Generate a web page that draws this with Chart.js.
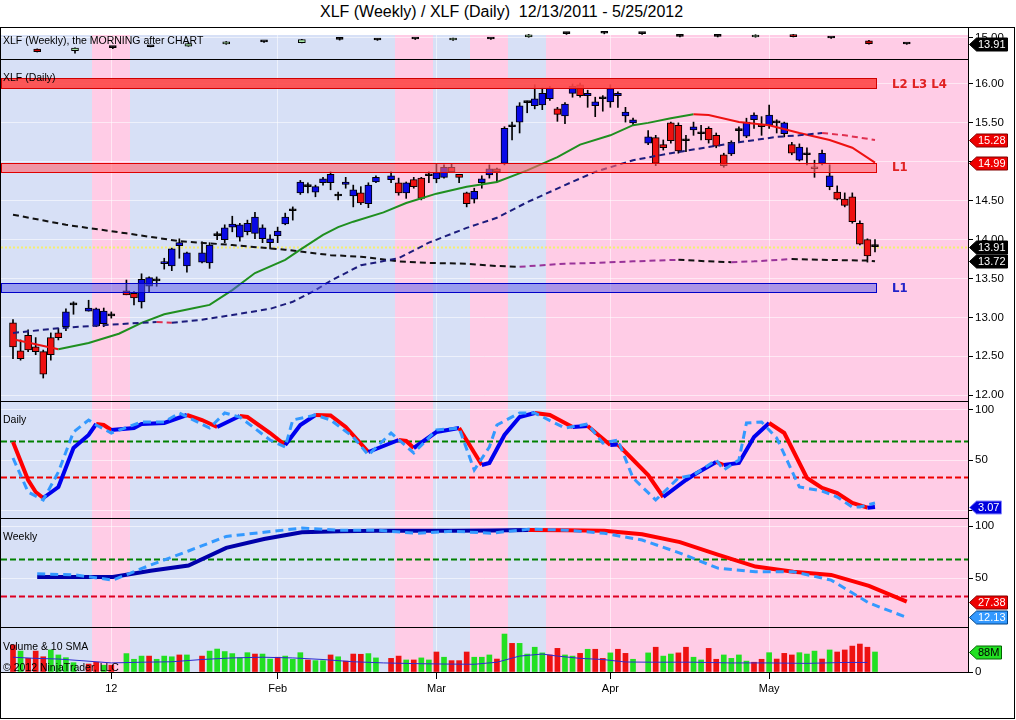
<!DOCTYPE html>
<html><head><meta charset="utf-8">
<script src="https://cdn.jsdelivr.net/npm/chart.js@4.4.1/dist/chart.umd.min.js"></script>
<style>
html,body{margin:0;padding:0;background:#fff;width:1016px;height:720px;overflow:hidden;font-family:"Liberation Sans",Arial,sans-serif;}
#title{position:absolute;left:320px;top:3px;font-size:16px;color:#000;white-space:nowrap;}
#frame{position:absolute;left:0;top:27px;width:1015px;height:692px;border:1px solid #000;box-sizing:border-box;}
canvas.pane{position:absolute;left:1px;width:1013px;}
.lbl{position:absolute;font-size:10.5px;color:#000;white-space:nowrap;line-height:12px;}
.lv{position:absolute;font-size:13px;font-weight:bold;white-space:nowrap;font-family:"DejaVu Sans Condensed","Liberation Sans",Arial,sans-serif;letter-spacing:0px;}
</style></head><body>
<div id="title">XLF (Weekly) / XLF (Daily)&nbsp;&nbsp;12/13/2011 - 5/25/2012</div>
<div id="frame"></div>
<canvas id="cW" class="pane" width="1013" height="32" style="top:27px;height:32px"></canvas>
<canvas id="cM" class="pane" width="1013" height="342" style="top:59px;height:342px"></canvas>
<canvas id="cD" class="pane" width="1013" height="117" style="top:401px;height:117px"></canvas>
<canvas id="cS" class="pane" width="1013" height="109" style="top:518px;height:109px"></canvas>
<canvas id="cV" class="pane" width="1013" height="91" style="top:627px;height:91px"></canvas>
<div class="lbl" style="left:3px;top:34px">XLF (Weekly), the MORNING after CHART</div>
<div class="lbl" style="left:3px;top:71px">XLF (Daily)</div>
<div class="lv" style="left:892px;top:76px;color:#e02222">L2 L3 L4</div>
<div class="lv" style="left:892px;top:159px;color:#e02222">L1</div>
<div class="lv" style="left:892px;top:280px;color:#2222c8">L1</div>
<div class="lbl" style="left:3px;top:413px">Daily</div>
<div class="lbl" style="left:3px;top:530px">Weekly</div>
<div class="lbl" style="left:3px;top:640px">Volume &amp; 10 SMA</div>
<div class="lbl" style="left:3px;top:661px">© 2012 NinjaTrader, LLC</div>
<script>
// ---------------- DATA ----------------
// daily slots 0..114 (null = empty slot on the time axis)
const dOpen = [12.93,12.57,12.77,12.62,12.56,12.74,12.80,12.88,13.16,null,
13.08,12.89,12.92,13.02,null,13.34,13.31,13.20,13.40,13.47,
13.69,13.66,13.92,13.66,null,13.71,13.70,14.05,14.00,14.16,
14.03,14.10,14.08,14.01,13.96,14.05,14.20,14.37,14.60,14.68,
14.61,14.73,14.73,14.56,14.71,14.56,14.60,14.46,14.74,null,
14.77,14.73,14.60,14.77,14.79,14.82,14.78,14.80,14.93,14.84,
14.60,14.52,14.73,14.83,14.91,14.98,15.45,15.51,15.76,15.72,
15.73,15.81,15.68,15.59,15.88,15.99,15.85,15.72,15.81,15.77,
15.85,15.59,15.50,null,15.24,15.31,15.22,15.50,15.47,15.27,
15.41,15.36,15.43,15.34,15.09,15.10,15.40,15.33,15.54,15.47,
15.47,15.50,15.36,15.22,15.02,15.09,14.93,14.98,14.68,14.61,
14.52,14.55,14.21,14.00,13.91];
const dHigh = [12.97,12.71,12.84,12.74,12.58,12.80,12.86,13.11,13.20,null,
13.22,13.12,13.12,13.07,null,13.48,13.33,13.56,13.52,13.52,
13.76,13.89,14.01,13.84,null,13.97,13.96,14.10,14.19,14.30,
14.21,14.25,14.35,14.19,14.06,14.16,14.34,14.42,14.76,14.73,
14.70,14.80,14.87,14.61,14.80,14.70,14.68,14.73,14.82,null,
14.87,14.79,14.74,14.80,14.80,14.87,14.97,14.96,14.98,14.84,
14.61,14.66,14.82,14.96,14.92,15.45,15.51,15.76,15.78,15.99,
15.95,15.97,15.70,15.76,16.00,16.01,15.92,15.83,15.85,15.99,
15.90,15.70,15.56,null,15.40,15.34,15.28,15.51,15.50,15.34,
15.51,15.47,15.45,15.37,15.11,15.27,15.45,15.56,15.63,15.58,
15.73,15.54,15.51,15.25,15.23,15.18,15.02,15.15,14.96,14.69,
14.60,14.60,14.24,14.01,14.00];
const dLow = [12.47,12.45,12.56,12.52,12.22,12.45,12.71,12.83,13.04,null,
13.08,12.88,12.88,12.99,null,13.29,13.16,13.12,13.33,13.40,
13.62,13.60,13.76,13.58,null,13.70,13.63,14.00,13.96,14.10,
13.98,14.06,14.01,13.96,13.88,13.96,14.19,14.25,14.58,14.60,
14.55,14.70,14.64,14.51,14.66,14.42,14.45,14.41,14.73,null,
14.73,14.57,14.53,14.66,14.51,14.73,14.73,14.79,14.86,14.73,
14.42,14.47,14.66,14.79,14.74,14.96,15.28,15.37,15.63,15.68,
15.67,15.79,15.52,15.49,15.83,15.83,15.70,15.58,15.65,15.70,
15.70,15.51,15.47,null,15.22,14.95,15.15,15.24,15.11,15.13,
15.34,15.28,15.24,15.18,14.93,15.08,15.25,15.31,15.43,15.34,
15.43,15.37,15.32,15.09,15.01,14.96,14.80,14.96,14.64,14.51,
14.42,14.21,13.93,13.71,13.84];
const dClose = [12.62,12.47,12.58,12.56,12.27,12.52,12.74,13.07,13.16,null,
13.12,13.11,13.08,13.02,null,13.29,13.25,13.49,13.51,13.47,
13.71,13.88,13.96,13.83,null,13.83,13.93,14.05,14.15,14.20,
14.19,14.21,14.29,14.15,14.01,14.11,14.29,14.37,14.74,14.68,
14.68,14.78,14.84,14.56,14.74,14.64,14.47,14.70,14.80,null,
14.82,14.60,14.73,14.68,14.53,14.82,14.86,14.93,14.87,14.80,
14.46,14.62,14.78,14.91,14.87,15.43,15.45,15.72,15.76,15.81,
15.88,15.95,15.61,15.74,15.97,15.85,15.88,15.77,15.81,15.94,
15.88,15.64,15.54,null,15.32,14.98,15.18,15.27,15.14,15.27,
15.45,15.36,15.28,15.20,14.95,15.25,15.40,15.51,15.60,15.45,
15.60,15.50,15.50,15.11,15.19,15.09,14.91,15.11,14.82,14.52,
14.44,14.23,13.94,13.79,13.91];
// volume (millions) and up/down flag per slot
const volume = [119,92,60,92,67,97,75,63,41,null,
35,43,30,30,null,81,56,70,70,56,
70,67,75,75,null,70,92,101,90,81,
63,85,79,79,57,65,70,56,85,53,
50,50,75,67,48,79,78,81,62,null,
60,70,53,53,62,53,88,65,50,50,
88,65,65,75,57,167,126,126,79,109,
84,75,104,75,70,82,100,100,60,84,
100,82,56,null,84,109,70,79,84,109,
65,53,104,56,75,60,75,48,43,56,
85,57,82,75,85,79,92,57,97,88,
97,114,123,109,88];
const volUp = [0,1,0,0,0,1,1,1,1,null,
0,0,1,0,null,1,1,1,0,1,
1,1,0,1,null,0,1,1,1,1,
1,1,0,1,1,0,1,1,1,0,
1,1,0,1,0,0,0,1,1,null,
0,0,1,0,1,1,0,1,0,0,
0,1,1,1,0,1,0,1,1,1,
1,0,0,1,1,0,1,0,0,1,
0,0,1,null,1,0,1,1,0,0,
1,1,0,0,1,1,1,1,0,0,
1,0,0,0,1,1,1,0,1,0,
0,0,0,0,1];
const volSmaSlots = [0,3,6,9,13,17,21,25,29,33,37,41,45,49,53,57,61,64,67,70,72,75,78,81,85,90,95,100,105,110,113];
const volSmaVals  = [65,60,57,50,40,43,45,55,62,65,62,55,45,40,37,35,34,43,70,79,70,60,55,44,43,43,40,40,38,42,42];

// moving averages on price (slot, value)
const ma1Slots = [0,6,10,14,17,20,24,26,29,32,36,38,41,43,45,49,52,56,60,64,68,72,75,79,82,84,87,90,92,96,100,104,108,111,114];
const ma1Vals  = [12.72,12.59,12.67,12.79,12.93,13.04,13.12,13.16,13.35,13.57,13.74,13.87,14.06,14.16,14.23,14.35,14.47,14.59,14.68,14.74,14.89,15.06,15.22,15.34,15.47,15.50,15.56,15.61,15.60,15.51,15.47,15.37,15.28,15.18,14.99];
const ma2Slots = [0,6,12,17,19,21,25,29,34,37,40,42,46,51,55,60,64,68,73,77,82,87,92,96,101,104,107,110,114];
const ma2Vals  = [12.80,12.86,12.90,12.93,12.94,12.93,12.97,13.03,13.11,13.20,13.35,13.47,13.67,13.76,13.96,14.15,14.28,14.48,14.70,14.87,15.02,15.11,15.19,15.25,15.32,15.34,15.37,15.34,15.28];
const ma3Slots = [0,7,15,22,29,36,42,46,51,55,60,64,67,73,77,82,88,92,95,98,103,107,113,114];
const ma3Vals  = [14.32,14.19,14.08,13.98,13.93,13.87,13.80,13.78,13.72,13.70,13.69,13.66,13.65,13.69,13.70,13.72,13.74,13.72,13.71,13.72,13.75,13.74,13.73,13.72];

// support / resistance zones
const l2Zone = [15.95, 16.08];
const l1RedZone = [14.87, 14.985];
const l1BlueZone = [13.33, 13.44];

// daily stochastics (slot, value)
const dStochDSlots = [0,2,3,4,6,8,10,11,12,13,16,17,20,23,25,27,30,31,34,36,38,40,42,44,47,51,52,53,56,59,62,63,65,67,69,71,74,76,79,80,84,86,89,90,93,94,96,98,100,102,105,107,109,111,113,114];
const dStochDVals  = [68,30,18,12,23,62,75,86,85,80,82,86,87,95,90,83,94,93,77,65,85,95,94.5,83,58,70,69,62,78,82,45,47,75,93,97,95,83,84,65,65.5,35,13,30,35,48,45,47,73,87,77,32,22,17,7,2.3,3.07];
const dStochKSlots = [0,2,4,6,8,10,11,13,17,20,22,26,28,30,34,36,37,40,42,45,47,50,53,56,59,61,63,64,67,69,73,76,78,80,82,85,88,90,93,94,96,97,99,101,104,107,109,111,112,114];
const dStochKVals  = [52,18,10,38,78,90,85,77,88,88,97,82,97,93,70,63,90,95,90,73,55,77,57,80,82,40,63,85,97,97,82,86,67,70,32,10,32,35,50,40,50,87,88,72,23,19,13,3,3,7];
const dailyLevels = [69, 33];

// weekly series (one value per week)
const wOpen  = [13.00,12.75,13.26,13.43,13.55,13.91,14.30,14.13,14.74,14.62,14.79,14.62,14.79,15.15,15.73,15.80,15.73,15.27,15.27,15.15,15.55,14.97,14.49,13.91];
const wHigh  = [13.05,13.25,13.40,13.50,14.15,14.35,14.40,14.75,14.90,14.80,14.90,14.95,14.90,15.60,15.90,15.95,15.90,15.40,15.40,15.55,15.60,15.10,14.55,13.98];
const wLow   = [12.50,12.30,13.10,13.40,13.50,13.85,14.20,14.10,14.60,14.55,14.70,14.55,14.70,15.10,15.60,15.70,15.60,15.15,15.15,15.10,15.15,14.90,13.90,13.85];
const wClose = [12.55,13.20,13.27,13.44,14.00,14.30,14.31,14.67,14.75,14.63,14.80,14.91,14.80,15.55,15.74,15.81,15.74,15.28,15.28,15.50,15.20,14.98,13.96,13.91];
const wStochD = [51,51,51,57,62,79,87.5,94,95,95.5,95.5,95.5,95.8,96.2,96,95.5,92,84.5,72.5,61,56,53,42.5,27.38];
const wStochK = [54,53,48,62.5,76,90,94,98,96,96,93,95,93,97,96,93,86.5,74,59.5,56,56,48,26,12.13];
const weeklyLevels = [68, 33];
const weekBg = ['u','u','d','u','u','u','u','u','u','u','d','u','d','u','d','d','d','d','d','d','d','d','d','d'];

// axis ticks
const monthTickSlots = [13, 35, 56, 79, 100];
const monthLabels = ['12', 'Feb', 'Mar', 'Apr', 'May'];
const priceTicks = [12, 12.5, 13, 13.5, 14, 14.5, 15, 15.5, 16];
const weeklyPriceTicks = [15];
const dailyStochTicks = [0, 50, 100];
const weeklyStochTicks = [50, 100];
const volumeTicks = [0];

// ---------------- CHART SETUP ----------------
Chart.defaults.font.family = "'Liberation Sans', Arial, sans-serif";
Chart.defaults.color = '#000';
const X_MIN = -1.587, X_MAX = 126.3;
const BG_UP = '#d7e0f6', BG_DN = '#ffcce6';
const GRID = 'rgba(255,255,255,0.55)';
const weekSlot = k => 3.2 + 5 * k;
const lastSlot = dClose.length - 1;

function xAxis(show) {
  return {
    type: 'linear', min: X_MIN, max: X_MAX, offset: false,
    afterBuildTicks(s) { s.ticks = monthTickSlots.map(v => ({ value: v })); },
    afterFit(s) { s.height = show ? 46 : 0; s.paddingLeft = 0; s.paddingRight = 0; },
    ticks: { display: show, autoSkip: false, maxRotation: 0, minRotation: 0, color: '#000', font: { size: 11 }, padding: 3,
      callback: (v, i) => monthLabels[i] },
    grid: { color: GRID, offset: false, drawTicks: show, tickLength: 7, tickColor: '#000' },
    border: { display: false }
  };
}
function yAxis(min, max, ticks, fmt) {
  return {
    position: 'right', type: 'linear', min, max, beginAtZero: false,
    afterBuildTicks(s) { s.ticks = ticks.map(v => ({ value: v })); },
    afterFit(s) { s.width = 46; s.paddingTop = 0; s.paddingBottom = 0; },
    ticks: { color: '#000', font: { size: 11.5 }, padding: 2, autoSkip: false, callback: v => fmt(v) },
    grid: { color: GRID, tickColor: '#000', tickLength: 5, drawTicks: true },
    border: { display: true, color: '#000', width: 1 }
  };
}

function panelPlugin(cfg) {
  return {
    id: 'panel',
    beforeDraw(chart) {
      const { ctx, chartArea: a, scales: { x } } = chart;
      const top = a.top + (cfg.bgTop || 0);
      ctx.save();
      for (let k = 0; k < weekBg.length; k++) {
        let x0 = Math.round(x.getPixelForValue(5 * k + 0.5));
        let x1 = Math.round(x.getPixelForValue(5 * k + 5.5));
        if (k === 0) x0 = a.left;
        if (k === weekBg.length - 1) x1 = a.right;
        ctx.fillStyle = weekBg[k] === 'u' ? BG_UP : BG_DN;
        ctx.fillRect(x0, top, x1 - x0, a.bottom - top);
      }
      ctx.restore();
    },
    beforeDatasetsDraw(chart) {
      const { ctx, chartArea: a, scales: { y } } = chart;
      ctx.save();
      for (const l of (cfg.hLines || [])) {
        const py = Math.round(y.getPixelForValue(l.v)) + 0.5;
        ctx.strokeStyle = l.color; ctx.lineWidth = l.width; ctx.setLineDash(l.dash);
        ctx.beginPath(); ctx.moveTo(a.left, py); ctx.lineTo(a.right, py); ctx.stroke();
      }
      ctx.restore();
    },
    afterDatasetsDraw(chart) {
      const { ctx, chartArea: a, scales: { x, y } } = chart;
      ctx.save();
      for (const b of (cfg.zones || [])) {
        const yTop = Math.round(y.getPixelForValue(b.range[1])) + 0.5;
        const yBot = Math.round(y.getPixelForValue(b.range[0])) + 0.5;
        const xr = Math.round(x.getPixelForValue(lastSlot)) + 1.5;
        ctx.fillStyle = b.fill; ctx.fillRect(a.left, yTop, xr - a.left, yBot - yTop);
        ctx.strokeStyle = b.stroke; ctx.lineWidth = 1;
        ctx.strokeRect(a.left + 0.5, yTop, xr - a.left - 0.5, yBot - yTop);
      }
      ctx.strokeStyle = '#000'; ctx.lineWidth = 1; ctx.setLineDash([]);
      ctx.beginPath(); ctx.moveTo(a.left, a.top + 0.5); ctx.lineTo(a.right + 1, a.top + 0.5); ctx.stroke();
      if (cfg.bottom) { ctx.beginPath(); ctx.moveTo(a.left, a.bottom + 0.5); ctx.lineTo(a.right + 1, a.bottom + 0.5); ctx.stroke(); }
      ctx.restore();
    },
    afterDraw(chart) {
      const { ctx, chartArea: a, scales: { y } } = chart;
      ctx.save();
      ctx.font = "11px 'Liberation Sans', Arial, sans-serif";
      for (const t of (cfg.tags || [])) {
        const py = Math.round(y.getPixelForValue(t.v)) + 0.5;
        const tw = ctx.measureText(t.text).width;
        const x0 = a.right + 1.5, xb = x0 + 7, x1 = Math.round(xb + tw + 3) + 0.5, h = 6.5;
        ctx.beginPath(); ctx.moveTo(x0, py); ctx.lineTo(xb, py - h); ctx.lineTo(x1, py - h); ctx.lineTo(x1, py + h); ctx.lineTo(xb, py + h); ctx.closePath();
        ctx.fillStyle = t.bg; ctx.fill(); ctx.strokeStyle = t.stroke || '#000'; ctx.lineWidth = 1; ctx.stroke();
        ctx.fillStyle = t.fg; ctx.textBaseline = 'middle'; ctx.textAlign = 'left';
        ctx.fillText(t.text, xb + 1.5, py + 0.5);
      }
      ctx.restore();
    }
  };
}

function makeChart(id, datasets, y, showX, cfg) {
  return new Chart(document.getElementById(id), {
    type: 'line',
    data: { datasets },
    options: {
      responsive: false, animation: false, devicePixelRatio: 1, events: [],
      layout: { padding: 0 },
      plugins: { legend: { display: false }, tooltip: { enabled: false }, title: { display: false } },
      scales: { x: xAxis(showX), y }
    },
    plugins: [panelPlugin(cfg)]
  });
}

function candleSets(xs, o, h, l, c, colorFn, bodyW) {
  const wick = [], body = [], cols = [];
  for (let i = 0; i < xs.length; i++) {
    if (o[i] == null) continue;
    wick.push({ x: xs[i], y: [l[i], h[i]] });
    body.push({ x: xs[i], y: [Math.min(o[i], c[i]), Math.max(o[i], c[i])] });
    cols.push(colorFn(o[i], c[i]));
  }
  return [
    { type: 'bar', data: wick, backgroundColor: '#000', borderWidth: 0, barThickness: 1, grouped: false, order: 4 },
    { type: 'bar', data: body, backgroundColor: cols, borderColor: '#000', borderWidth: 1, borderSkipped: false,
      barThickness: bodyW, minBarLength: 2, grouped: false, order: 3 }
  ];
}
function lineDS(xs, vals, up, down, width, dash, order) {
  const ds = { type: 'line', data: xs.map((s, i) => ({ x: s, y: vals[i] })), borderColor: up, borderWidth: width,
    borderDash: dash || [], pointRadius: 0, tension: 0, fill: false, order: order || 1, borderCapStyle: 'butt' };
  if (down) ds.segment = { borderColor: ctx => ctx.p1.parsed.y < ctx.p0.parsed.y ? down : up };
  return ds;
}

const slots = dClose.map((_, i) => i);
const weeks = wClose.map((_, k) => weekSlot(k));
const fmt2 = v => v.toFixed(2);

// 1) weekly strip
makeChart('cW',
  candleSets(weeks, wOpen, wHigh, wLow, wClose,
    (o, c) => Math.abs(c - o) < 0.03 ? '#000' : (c > o ? '#a6e6a6' : '#cc0000'), 7),
  yAxis(11.265, 16.91, weeklyPriceTicks, fmt2), false,
  { bgTop: 8, tags: [{ v: wClose[wClose.length - 1], text: fmt2(wClose[wClose.length - 1]), bg: '#000', fg: '#fff' }] });

// 2) daily price panel
const lastClose = dClose[lastSlot];
makeChart('cM', [
    ...candleSets(slots, dOpen, dHigh, dLow, dClose,
      (o, c) => c === o ? '#000' : (c > o ? '#0a0ae6' : '#ee1111'), 7),
    lineDS(ma3Slots, ma3Vals, '#993399', '#111111', 2, [6, 4], 2),
    lineDS(ma2Slots, ma2Vals, '#1c1c7c', '#e03050', 2, [6, 4], 1),
    lineDS(ma1Slots, ma1Vals, '#1f8f1f', '#ee1111', 2, null, 1)
  ],
  yAxis(11.925, 16.321, priceTicks, fmt2), false,
  {
    hLines: [{ v: lastClose, color: '#f4ee70', width: 2, dash: [2, 2] }],
    zones: [
      { range: l2Zone, fill: 'rgba(255,70,70,0.9)', stroke: '#d00000' },
      { range: l1RedZone, fill: 'rgba(255,100,110,0.6)', stroke: '#e00000' },
      { range: l1BlueZone, fill: 'rgba(90,90,230,0.5)', stroke: '#0000c8' }
    ],
    tags: [
      { v: ma2Vals[ma2Vals.length - 1], text: fmt2(ma2Vals[ma2Vals.length - 1]), bg: '#ee0000', fg: '#fff', stroke: '#800000' },
      { v: ma1Vals[ma1Vals.length - 1], text: fmt2(ma1Vals[ma1Vals.length - 1]), bg: '#ee0000', fg: '#fff', stroke: '#800000' },
      { v: lastClose, text: fmt2(lastClose), bg: '#000', fg: '#fff' },
      { v: ma3Vals[ma3Vals.length - 1], text: fmt2(ma3Vals[ma3Vals.length - 1]), bg: '#000', fg: '#fff' }
    ]
  });

// 3) daily stochastics
const dLast = dStochDVals[dStochDVals.length - 1];
makeChart('cD', [
    lineDS(dStochDSlots, dStochDVals, '#0000ee', '#ff0000', 4, null, 2),
    lineDS(dStochKSlots, dStochKVals, '#3399ff', null, 3, [8, 5], 1)
  ],
  yAxis(-8, 109, dailyStochTicks, v => String(v)), false,
  {
    hLines: [{ v: dailyLevels[0], color: '#008000', width: 2, dash: [6, 3] },
             { v: dailyLevels[1], color: '#ee0000', width: 2, dash: [6, 3] }],
    tags: [{ v: dLast, text: dLast.toFixed(2), bg: '#0000dd', fg: '#fff', stroke: '#8888ff' }]
  });

// 4) weekly stochastics
const wdLast = wStochD[wStochD.length - 1], wkLast = wStochK[wStochK.length - 1];
makeChart('cS', [
    lineDS(weeks, wStochD, '#0000aa', '#ff0000', 4, null, 2),
    lineDS(weeks, wStochK, '#3399ff', null, 3, [8, 5], 1)
  ],
  yAxis(2.9, 107.7, weeklyStochTicks, v => String(v)), false,
  {
    hLines: [{ v: weeklyLevels[0], color: '#008000', width: 2, dash: [6, 3] },
             { v: weeklyLevels[1], color: '#dd0022', width: 2, dash: [6, 3] }],
    tags: [{ v: wdLast, text: wdLast.toFixed(2), bg: '#ee0000', fg: '#fff', stroke: '#800000' },
           { v: wkLast, text: wkLast.toFixed(2), bg: '#3399ff', fg: '#fff', stroke: '#004488' }]
  });

// 5) volume
const vData = [], vCols = [];
for (let i = 0; i < volume.length; i++) {
  if (volume[i] == null) continue;
  vData.push({ x: i, y: volume[i] });
  vCols.push(volUp[i] ? '#22e022' : '#ee1111');
}
const vLast = volume[volume.length - 1];
makeChart('cV', [
    { type: 'bar', data: vData, backgroundColor: vCols, borderWidth: 0, barThickness: 5, grouped: false, order: 2 },
    lineDS(volSmaSlots, volSmaVals, '#2a2ad0', null, 1, null, 1)
  ],
  yAxis(0, 198, volumeTicks, v => String(v)), true,
  { bottom: true, tags: [{ v: vLast, text: vLast + 'M', bg: '#22e022', fg: '#000', stroke: '#006600' }] });
</script>
</body></html>
